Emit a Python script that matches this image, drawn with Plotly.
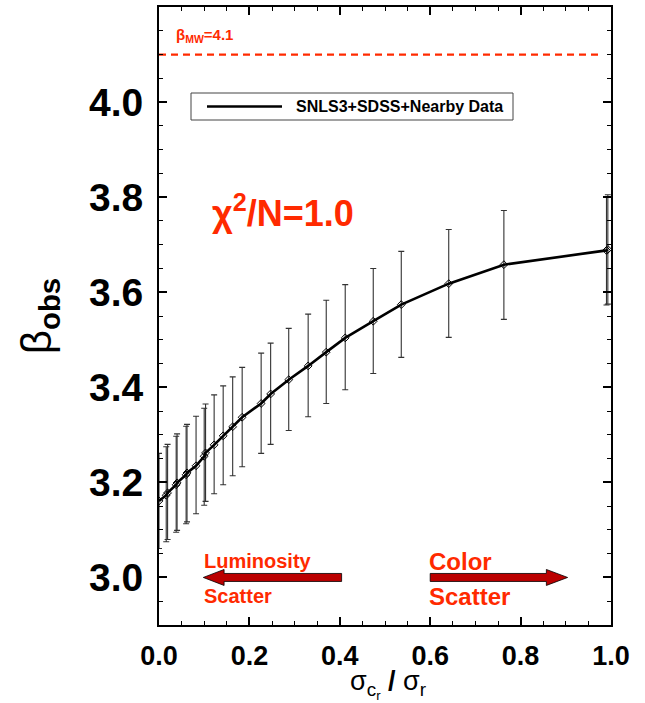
import plotly.graph_objects as go

# ---------------- data ----------------
sigma_ratio = [0.000, 0.016, 0.019, 0.038, 0.040, 0.060, 0.062, 0.082, 0.100, 0.103,
               0.122, 0.142, 0.163, 0.184, 0.226, 0.247, 0.287, 0.330, 0.370, 0.412,
               0.474, 0.536, 0.641, 0.763, 0.990, 0.993]
beta_obs = [3.161, 3.173, 3.178, 3.195, 3.199, 3.216, 3.220, 3.235, 3.255, 3.262,
            3.279, 3.298, 3.317, 3.337, 3.366, 3.386, 3.416, 3.445, 3.474, 3.504,
            3.539, 3.574, 3.618, 3.658, 3.688, 3.690]
err_up = [0.100, 0.102, 0.102, 0.102, 0.103, 0.102, 0.102, 0.104, 0.101, 0.103,
          0.105, 0.105, 0.105, 0.105, 0.106, 0.107, 0.108, 0.109, 0.109, 0.112,
          0.111, 0.112, 0.114, 0.114, 0.112, 0.115]
err_down = [0.100, 0.098, 0.098, 0.100, 0.100, 0.103, 0.103, 0.101, 0.103, 0.102,
            0.103, 0.103, 0.103, 0.104, 0.105, 0.106, 0.107, 0.107, 0.108, 0.109,
            0.110, 0.111, 0.113, 0.115, 0.115, 0.115]

beta_mw = 4.1
beta_mw_span = [0.0, 0.978]

x_ticks = [0.0, 0.2, 0.4, 0.6, 0.8, 1.0]
x_tick_labels = ["0.0", "0.2", "0.4", "0.6", "0.8", "1.0"]
y_ticks = [3.0, 3.2, 3.4, 3.6, 3.8, 4.0]
y_tick_labels = ["3.0", "3.2", "3.4", "3.6", "3.8", "4.0"]

legend_label = "SNLS3+SDSS+Nearby Data"
x_title = "σ<sub>c<sub>r</sub></sub><b> / </b>σ<sub>r</sub>"
y_title = "β<sub><b>obs</b></sub>"

# arrows (data x, data y anchor)
lum_arrow = dict(tail=0.404, tip=0.098, y=3.0)
col_arrow = dict(tail=0.600, tip=0.904, y=3.0)

RED = "#ff2a00"
DARKRED = "#bb0000"
FONT = "Liberation Sans, Arial, Helvetica, sans-serif"

# plot-area geometry in page pixels
L, R, T, B = 159, 611, 7, 625
W, H = 645, 703


def px(xp):
    return (xp - L) / (R - L)


def py(yp):
    return (B - yp) / (B - T)


fig = go.Figure()

# beta_MW dashed line
fig.add_trace(go.Scatter(
    x=beta_mw_span, y=[beta_mw, beta_mw], mode="lines",
    line=dict(color=RED, width=2.2, dash="7px,5px"),
    showlegend=False, hoverinfo="skip", cliponaxis=False))

# main curve with error bars
fig.add_trace(go.Scatter(
    x=sigma_ratio, y=beta_obs, mode="lines+markers",
    line=dict(color="black", width=2.6),
    marker=dict(symbol="diamond-open", size=6, color="black",
                line=dict(color="black", width=1)),
    error_y=dict(type="data", array=err_up, arrayminus=err_down,
                 color="#333333", thickness=1.1, width=3),
    showlegend=False, cliponaxis=True))


def arrow_path(tail, tip, headlen, shaft=4, head=8):
    d = 1 if tip > tail else -1
    hb = tip - d * headlen
    return (f"M {tail},{shaft} L {hb},{shaft} L {hb},{head} L {tip},0 "
            f"L {hb},{-head} L {hb},{-shaft} L {tail},{-shaft} Z")


for arr, hl in ((lum_arrow, 0.046), (col_arrow, 0.047)):
    fig.add_shape(type="path", xref="x", yref="y", ysizemode="pixel",
                  yanchor=arr["y"],
                  path=arrow_path(arr["tail"], arr["tip"], hl),
                  fillcolor=DARKRED, line=dict(color="black", width=0.8))

# legend (manual)
fig.add_shape(type="rect", xref="paper", yref="paper",
              x0=px(191), x1=px(513), y0=py(120), y1=py(93),
              line=dict(color="#444444", width=1), fillcolor="white")
fig.add_shape(type="line", xref="paper", yref="paper",
              x0=px(207), x1=px(282), y0=py(106.5), y1=py(106.5),
              line=dict(color="black", width=2.6))
fig.add_annotation(xref="paper", yref="paper",
                   x=px(294), y=py(106.5),
                   xanchor="left", yanchor="middle", showarrow=False,
                   text="<b>" + legend_label + "</b>",
                   font=dict(family=FONT, size=16, color="black"))

# texts
fig.add_annotation(xref="paper", yref="paper",
                   x=px(174), y=py(35),
                   xanchor="left", yanchor="middle", showarrow=False,
                   text="<b>β<sub>MW</sub>=4.1</b>",
                   font=dict(family=FONT, size=15, color=RED))
fig.add_annotation(xref="paper", yref="paper",
                   x=px(210), y=py(211),
                   xanchor="left", yanchor="middle", showarrow=False,
                   text="<b>χ<sup>2</sup>/N=1.0</b>",
                   font=dict(family=FONT, size=36, color=RED))
fig.add_annotation(xref="paper", yref="paper",
                   x=px(202), y=py(561),
                   xanchor="left", yanchor="middle", showarrow=False,
                   text="<b>Luminosity</b>",
                   font=dict(family=FONT, size=20, color=RED))
fig.add_annotation(xref="paper", yref="paper",
                   x=px(202), y=py(596),
                   xanchor="left", yanchor="middle", showarrow=False,
                   text="<b>Scatter</b>",
                   font=dict(family=FONT, size=20, color=RED))
fig.add_annotation(xref="paper", yref="paper",
                   x=px(427), y=py(561),
                   xanchor="left", yanchor="middle", showarrow=False,
                   text="<b>Color</b>",
                   font=dict(family=FONT, size=24, color=RED))
fig.add_annotation(xref="paper", yref="paper",
                   x=px(427), y=py(596),
                   xanchor="left", yanchor="middle", showarrow=False,
                   text="<b>Scatter</b>",
                   font=dict(family=FONT, size=24, color=RED))

# x-axis title as annotation (placed like the reference)
fig.add_annotation(xref="paper", yref="paper",
                   x=px(388), y=py(684),
                   xanchor="center", yanchor="middle", showarrow=False,
                   text=x_title,
                   font=dict(family=FONT, size=27, color="black"))

axis_common = dict(
    showline=True, linecolor="black", linewidth=2, mirror="ticks",
    ticks="inside", ticklen=8, tickwidth=1.5, tickcolor="black",
    showgrid=False, zeroline=False,
)

fig.update_xaxes(
    **axis_common, range=[0, 1.0],
    tickmode="array", tickvals=x_ticks, ticktext=x_tick_labels,
    tickfont=dict(family=FONT, size=27, color="black", weight="bold"),
    ticklabelstandoff=6,
    minor=dict(dtick=0.05, ticks="inside", ticklen=4, tickwidth=1.2, tickcolor="black"),
)
fig.update_yaxes(
    **axis_common, range=[2.9, 4.2],
    tickmode="array", tickvals=y_ticks, ticktext=y_tick_labels,
    tickfont=dict(family=FONT, size=39, color="black", weight="bold"),
    ticklabelstandoff=6,
    minor=dict(dtick=0.05, tick0=3.0, ticks="inside", ticklen=4, tickwidth=1.2, tickcolor="black"),
    title=dict(text=y_title,
               font=dict(family=FONT, size=42, color="black"), standoff=24),
)

fig.update_layout(
    width=W, height=H,
    margin=dict(l=L, r=W - R, t=T, b=H - B, autoexpand=False),
    paper_bgcolor="white", plot_bgcolor="white",
    showlegend=False,
)

fig.write_html("out.html", config={"displayModeBar": False},
               post_script="document.body.style.margin='0px';document.body.style.overflow='hidden';")
